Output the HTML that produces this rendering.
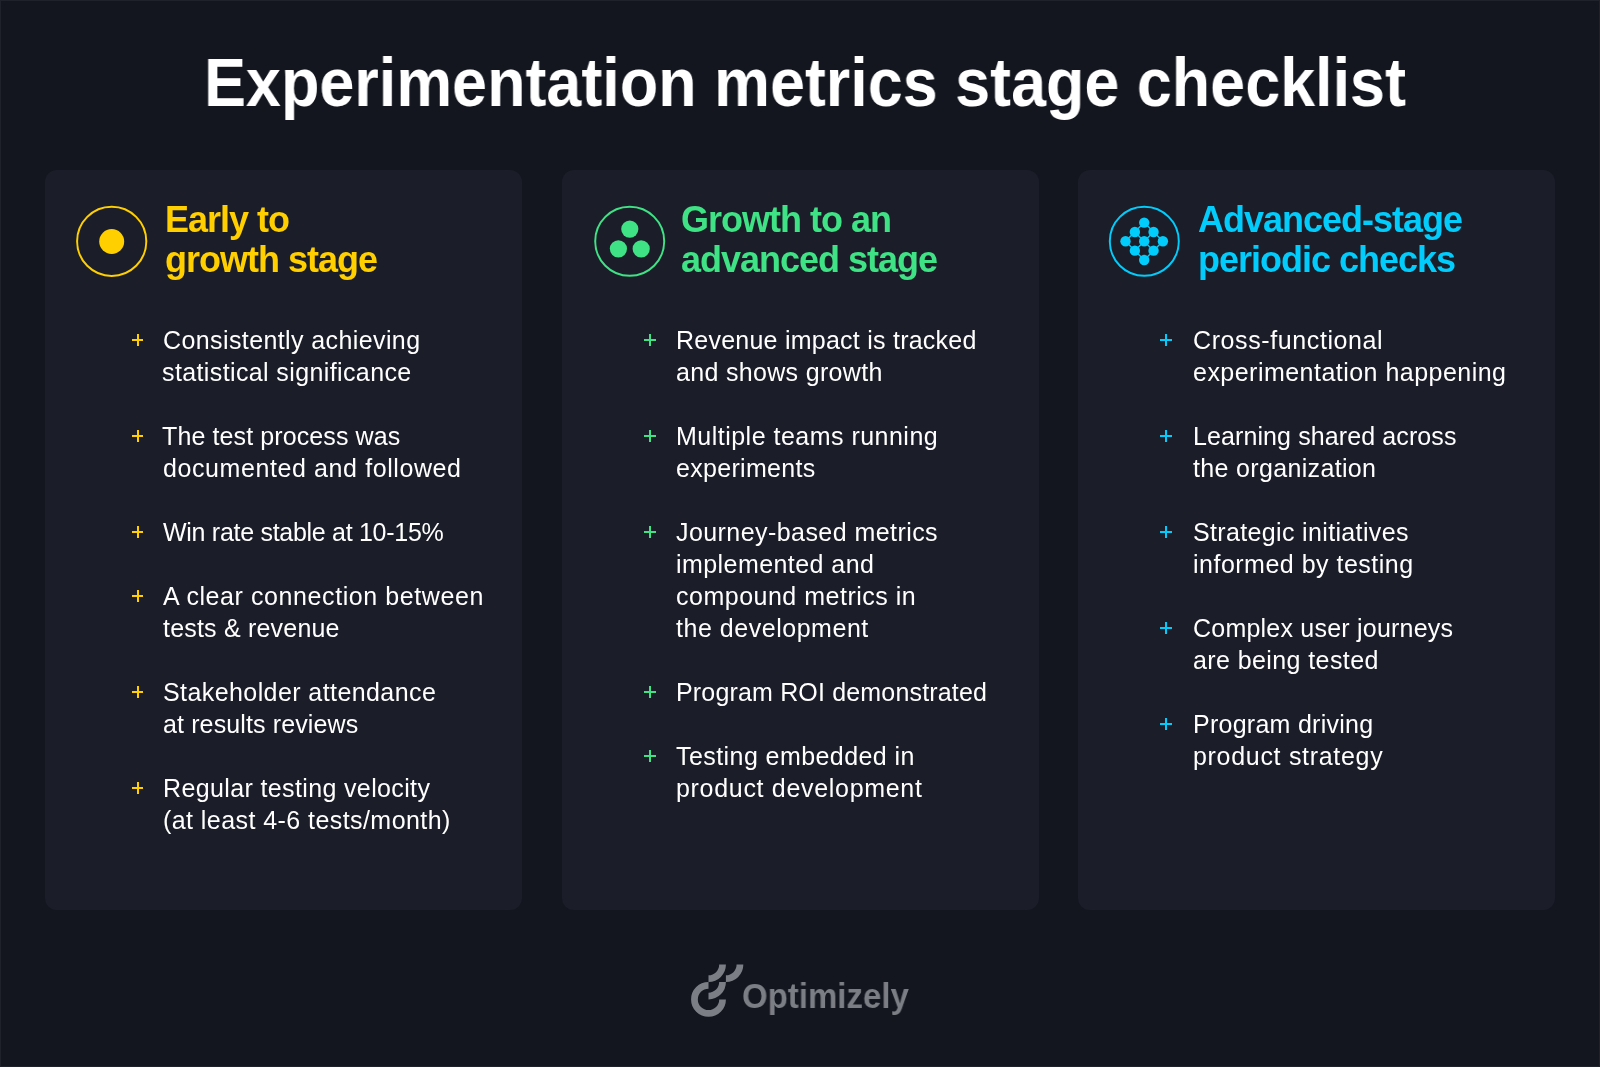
<!DOCTYPE html>
<html>
<head>
<meta charset="utf-8">
<style>
html,body{margin:0;padding:0;}
html{background:#13161f;}
body{width:1600px;height:1067px;background:#13161f;position:relative;overflow:hidden;font-family:"Liberation Sans",Arial,sans-serif;}
.frame{position:absolute;left:0;top:0;width:1598px;height:1065px;border:1px solid #1f222b;}
h1{position:absolute;left:204px;top:48px;margin:0;font-size:68px;line-height:68px;font-weight:bold;color:#fff;letter-spacing:0;white-space:nowrap;transform:scaleX(0.9245);transform-origin:0 0;will-change:transform;}
.card{position:absolute;top:170px;width:477px;height:740px;background:#1b1e29;border-radius:12px;}
.icon{position:absolute;left:0;top:0;}
.hd{position:absolute;top:30.25px;will-change:transform;font-size:36px;line-height:40px;font-weight:bold;letter-spacing:-1px;white-space:nowrap;margin:0;}
.t{position:absolute;font-size:25px;line-height:32px;color:#fff;white-space:nowrap;will-change:transform;}
.plus{position:absolute;width:11.4px;height:11.8px;}
.plus:before,.plus:after{content:"";position:absolute;background:currentColor;}
.plus:before{left:0;right:0;top:4.9px;height:2px;}
.plus:after{top:0;bottom:0;left:4.7px;width:2px;}
.y{color:#ffcf00;}
.g{color:#3fe284;}
.c{color:#02ccfb;}
.brand{position:absolute;left:742px;top:975.7px;font-size:35px;line-height:40px;font-weight:bold;color:#7c7e85;letter-spacing:0;white-space:nowrap;transform:scaleX(0.943);transform-origin:0 0;will-change:transform;}
</style>
</head>
<body>
<div class="frame"></div>
<h1>Experimentation metrics stage checklist</h1>

<div class="card" style="left:45px;">
  <svg class="icon" width="200" height="140" viewBox="45 170 200 140">
    <circle cx="111.7" cy="241.3" r="34.6" fill="none" stroke="#ffcf00" stroke-width="2"/>
    <circle cx="111.7" cy="241.5" r="12.5" fill="#ffcf00"/>
  </svg>
  <div class="hd y" style="left:120.4px;">Early to<br>growth stage</div>
</div>

<div class="card" style="left:561.5px;">
  <svg class="icon" width="200" height="140" viewBox="561.5 170 200 140">
    <circle cx="629.2" cy="241.3" r="34.5" fill="none" stroke="#3fe284" stroke-width="2"/>
    <circle cx="629.3" cy="229.1" r="8.6" fill="#3fe284"/>
    <circle cx="617.9" cy="248.8" r="8.6" fill="#3fe284"/>
    <circle cx="640.7" cy="248.8" r="8.6" fill="#3fe284"/>
  </svg>
  <div class="hd g" style="left:119px;">Growth to an<br>advanced stage</div>
</div>

<div class="card" style="left:1078px;">
  <svg class="icon" width="200" height="140" viewBox="1078 170 200 140">
    <circle cx="1144.3" cy="241.3" r="34.5" fill="none" stroke="#02ccfb" stroke-width="2"/>
    <g stroke="#02ccfb" stroke-width="1.4" fill="none">
      <path d="M1144.2 222.6 L1162.9 241.3 L1144.2 260 L1125.5 241.3 Z"/>
      <path d="M1153.55 231.95 L1134.85 250.65 M1134.85 231.95 L1153.55 250.65"/>
    </g>
    <g fill="#02ccfb">
      <circle cx="1144.2" cy="222.6" r="5.2"/>
      <circle cx="1134.85" cy="231.95" r="5.2"/>
      <circle cx="1153.55" cy="231.95" r="5.2"/>
      <circle cx="1125.5" cy="241.3" r="5.2"/>
      <circle cx="1144.2" cy="241.3" r="5.2"/>
      <circle cx="1162.9" cy="241.3" r="5.2"/>
      <circle cx="1134.85" cy="250.65" r="5.2"/>
      <circle cx="1153.55" cy="250.65" r="5.2"/>
      <circle cx="1144.2" cy="260" r="5.2"/>
    </g>
  </svg>
  <div class="hd c" style="left:119.5px;">Advanced-stage<br>periodic checks</div>
</div>

<div class="plus" style="left:132.10px;top:333.75px;color:#ffcf00"></div>
<div class="plus" style="left:132.10px;top:429.75px;color:#ffcf00"></div>
<div class="plus" style="left:132.10px;top:525.75px;color:#ffcf00"></div>
<div class="plus" style="left:132.10px;top:589.75px;color:#ffcf00"></div>
<div class="plus" style="left:132.10px;top:685.75px;color:#ffcf00"></div>
<div class="plus" style="left:132.10px;top:781.75px;color:#ffcf00"></div>
<div class="plus" style="left:644.15px;top:333.75px;color:#3fe284"></div>
<div class="plus" style="left:644.15px;top:429.75px;color:#3fe284"></div>
<div class="plus" style="left:644.15px;top:525.75px;color:#3fe284"></div>
<div class="plus" style="left:644.15px;top:685.75px;color:#3fe284"></div>
<div class="plus" style="left:644.15px;top:749.75px;color:#3fe284"></div>
<div class="plus" style="left:1160.30px;top:333.75px;color:#02ccfb"></div>
<div class="plus" style="left:1160.30px;top:429.75px;color:#02ccfb"></div>
<div class="plus" style="left:1160.30px;top:525.75px;color:#02ccfb"></div>
<div class="plus" style="left:1160.30px;top:621.75px;color:#02ccfb"></div>
<div class="plus" style="left:1160.30px;top:717.75px;color:#02ccfb"></div>
<div class="t" style="left:162.57px;top:324.34px;letter-spacing:0.397px">Consistently achieving</div>
<div class="t" style="left:162.40px;top:356.34px;letter-spacing:0.385px">statistical significance</div>
<div class="t" style="left:162.40px;top:420.34px;letter-spacing:0.109px">The test process was</div>
<div class="t" style="left:162.79px;top:452.34px;letter-spacing:0.595px">documented and followed</div>
<div class="t" style="left:163.29px;top:516.34px;letter-spacing:-0.288px">Win rate stable at 10-15%</div>
<div class="t" style="left:162.65px;top:580.34px;letter-spacing:0.582px">A clear connection between</div>
<div class="t" style="left:163.02px;top:612.34px;letter-spacing:0.200px">tests &amp; revenue</div>
<div class="t" style="left:162.70px;top:676.34px;letter-spacing:0.416px">Stakeholder attendance</div>
<div class="t" style="left:163.24px;top:708.34px;letter-spacing:0.126px">at results reviews</div>
<div class="t" style="left:163.11px;top:772.34px;letter-spacing:0.368px">Regular testing velocity</div>
<div class="t" style="left:162.85px;top:804.34px;letter-spacing:0.434px">(at least 4-6 tests/month)</div>
<div class="t" style="left:676.21px;top:324.34px;letter-spacing:0.242px">Revenue impact is tracked</div>
<div class="t" style="left:676.34px;top:356.34px;letter-spacing:0.323px">and shows growth</div>
<div class="t" style="left:676.21px;top:420.34px;letter-spacing:0.484px">Multiple teams running</div>
<div class="t" style="left:676.14px;top:452.34px;letter-spacing:0.310px">experiments</div>
<div class="t" style="left:676.11px;top:516.34px;letter-spacing:0.435px">Journey-based metrics</div>
<div class="t" style="left:676.33px;top:548.34px;letter-spacing:0.436px">implemented and</div>
<div class="t" style="left:675.88px;top:580.34px;letter-spacing:0.504px">compound metrics in</div>
<div class="t" style="left:676.12px;top:612.34px;letter-spacing:0.529px">the development</div>
<div class="t" style="left:676.21px;top:676.34px;letter-spacing:0.168px">Program ROI demonstrated</div>
<div class="t" style="left:675.64px;top:740.34px;letter-spacing:0.428px">Testing embedded in</div>
<div class="t" style="left:675.89px;top:772.34px;letter-spacing:0.689px">product development</div>
<div class="t" style="left:1192.57px;top:324.34px;letter-spacing:0.602px">Cross-functional</div>
<div class="t" style="left:1192.78px;top:356.34px;letter-spacing:0.474px">experimentation happening</div>
<div class="t" style="left:1193.11px;top:420.34px;letter-spacing:0.103px">Learning shared across</div>
<div class="t" style="left:1192.72px;top:452.34px;letter-spacing:0.337px">the organization</div>
<div class="t" style="left:1192.70px;top:516.34px;letter-spacing:0.349px">Strategic initiatives</div>
<div class="t" style="left:1193.23px;top:548.34px;letter-spacing:0.494px">informed by testing</div>
<div class="t" style="left:1192.57px;top:612.34px;letter-spacing:0.219px">Complex user journeys</div>
<div class="t" style="left:1193.24px;top:644.34px;letter-spacing:0.403px">are being tested</div>
<div class="t" style="left:1192.85px;top:708.34px;letter-spacing:0.264px">Program driving</div>
<div class="t" style="left:1192.89px;top:740.34px;letter-spacing:0.697px">product strategy</div>

<svg width="1600" height="1067" viewBox="0 0 1600 1067" style="position:absolute;left:0;top:0;">
  <g fill="none" stroke="#7c7e85" stroke-width="6.75" stroke-linecap="butt">
    <path d="M708.5 985.35 A14.05 14.05 0 1 0 722.55 999.4"/>
    <path d="M708.5 996.05 A14.05 14.05 0 0 0 722.55 982"/>
    <path d="M708.5 978.65 A14.05 14.05 0 0 0 722.55 964.6"/>
    <path d="M725.9 978.65 A14.05 14.05 0 0 0 739.95 964.6"/>
  </g>
</svg>
<div class="brand">Optimizely</div>
</body>
</html>
